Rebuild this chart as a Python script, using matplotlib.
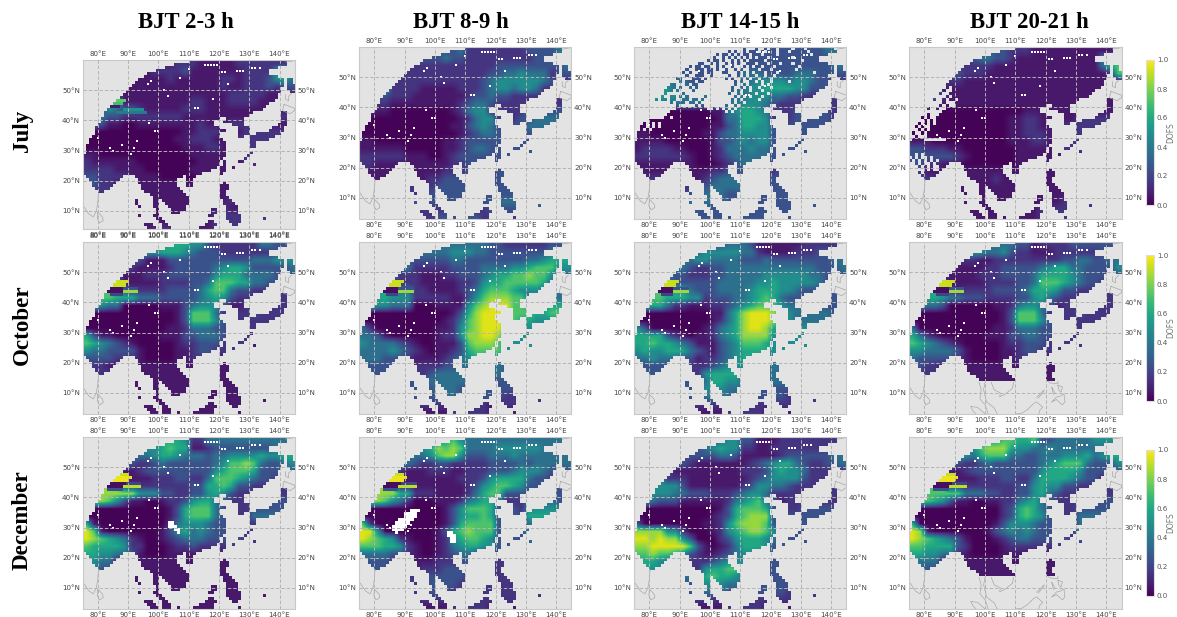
import numpy as np
import matplotlib
matplotlib.use("Agg")
import matplotlib.pyplot as plt
from matplotlib.cm import ScalarMappable
from matplotlib.colors import Normalize

HOURS = ["BJT 2-3 h", "BJT 8-9 h", "BJT 14-15 h", "BJT 20-21 h"]
MONTHS = ["July", "October", "December"]
LON_TICKS = [80, 90, 100, 110, 120, 130, 140]
LAT_TICKS = [10, 20, 30, 40, 50]
CBAR_TICKS = [0.0, 0.2, 0.4, 0.6, 0.8, 1.0]
# DOFS level meant by each digit of the grids below
LEVELS = [0.01, 0.07, 0.15, 0.25, 0.37, 0.49, 0.60, 0.72, 0.84, 0.95]

# land cells with data, by latitude band: lat -> [(lon_from, lon_to), ...]
LAND_SPANS = {
 59: [(110, 142)], 58: [(105, 142)], 57: [(102, 139)], 56: [(99, 136)], 55: [(96, 136)],
 54: [(95, 139)], 53: [(93, 141), (142, 144)], 52: [(92, 141), (142, 144)],
 51: [(91, 141), (142, 145)], 50: [(90, 140), (142, 145)], 49: [(89, 140), (143, 145)],
 48: [(88, 139)], 47: [(87, 139)], 46: [(86, 138)], 45: [(85, 136)], 44: [(84, 135)],
 43: [(83, 134)], 42: [(82, 131), (140, 142)], 41: [(82, 130), (140, 142)],
 40: [(81, 120), (122, 128), (140, 142)], 39: [(81, 118), (121, 128), (140, 142)],
 38: [(80, 118), (124, 128), (139, 142)], 37: [(79, 120), (126, 130), (137, 141)],
 36: [(79, 122), (126, 130), (136, 141)], 35: [(79, 120), (126, 130), (132, 140)],
 34: [(78, 120), (126, 128), (130, 138)], 33: [(77, 121), (130, 136)], 32: [(77, 122), (130, 132)],
 31: [(76, 122), (130, 132)], 30: [(76, 122)], 29: [(76, 122), (130, 131)],
 28: [(75, 122), (129, 130)], 27: [(75, 121), (128, 129)], 26: [(75, 120), (121, 122), (126, 128)],
 25: [(75, 120), (121, 122), (131, 132)], 24: [(75, 119), (120, 122), (124, 125)],
 23: [(75, 117), (120, 122)], 22: [(75, 114), (120, 121)], 21: [(76, 88), (92, 108), (109, 112)],
 20: [(77, 87), (93, 106), (109, 111)], 19: [(78, 86), (93, 106), (109, 111), (121, 122)],
 18: [(78, 85), (94, 106), (109, 111), (120, 123)], 17: [(79, 84), (94, 107), (120, 123)],
 16: [(80, 82), (95, 108), (120, 122)], 15: [(97, 109), (120, 122)], 14: [(98, 110), (120, 123)],
 13: [(92, 93), (98, 100), (101, 110), (121, 124)], 12: [(92, 93), (98, 100), (102, 110), (121, 125)],
 11: [(93, 94), (98, 100), (103, 109), (122, 126)], 10: [(99, 100), (104, 109), (117, 119), (122, 126)],
 9: [(99, 100), (104, 107), (117, 119), (122, 126)], 8: [(93, 94), (98, 100), (116, 118), (122, 127)],
 7: [(99, 101), (122, 127), (134, 135)], 6: [(100, 102), (116, 118), (123, 127)],
 5: [(95, 98), (101, 103), (115, 119), (124, 126)], 4: [(96, 99), (101, 104), (113, 118)],
 3: [(97, 100), (101, 104), (106, 107), (111, 118), (126, 127)],
}

# isolated tiny data gaps drawn white, common to all panels (lon, lat)
WHITE_LONS = [115.5, 116.5, 117.5, 118.5, 119.5, 126, 127, 128, 131, 132, 96.5, 97.5, 93, 100, 92, 97,
              112, 113, 85, 78, 80, 88, 84, 102, 118, 107, 110, 123, 99, 91, 103, 121, 122, 133.5]
WHITE_LATS = [58.3, 58.3, 58.3, 58.3, 58.3, 56.5, 56.5, 56.5, 57.3, 57.3, 52, 53, 33, 36.5, 31, 39,
              44, 44, 30, 35, 34, 32, 31, 50, 47, 54, 57, 52, 36.5, 29, 48, 56, 56, 57.3]

# Hand-read data gaps (# = no data), 10-cell groups from 75E; first row = first lat listed
GAPS_JUL14 = """
########## ########## ########## ###.##.### .##.#..#.. ..#...#... ......#...
########## ########## #########. #.#.##.#.. .#.#...#.. .#.....#.. ..........
########## ########## #######.#. .#.#.#..#. ..#....#.. ........#. ..........
########## ########## ######.##. #.#.#.#.#. #...#..... ..#....... ..........
########## ########## ####.#..#. ##.#.#.#.. ...#...... .....#.... ..........
########## #########. #..##.#.## .#.#.##... #...#...#. ..#....... ..........
########## ########.# ..#..##.#. ##.###.#.# ..#...#... ....#..... ..........
########## #######.## ...#..#.## .##.#.##.. .#...#.... ...#...... ..........
########## ######.#.# #..#..###. .###.#.#.# ...#...#.. .........# ..........
########## ####.##.## ...##.#### #.##.#.#.. #..#..#... .......... ....#.....
########## ####..###. ..#.###### .#.##.#.#. .#...#.... .......... ..........
########## ##.##.#... #..####### ###.#.##.. #.#..#.... .#........ ..........
########## #...###.#. .######### ###.##.#.. ..#.#..... .......... ..........
########## ....#.##.# .######### ##.##.#.#. .#...#.... .......... ..........
#########. ...#.####. ########## ##.#.#..#. ..#....... .......... ..........
########.# .#####.### ########## #.##.#.... #...#..... .......... ..........
#######.#. ##..#.#.## ###.###### ###.#.#.#. ..#....... .......... ..........
#######.#. .#..##..#. .#.####### ##.#.#.... .#........ .......... ..........
########## ##.#...#.. #.######## ##.#..#... .......... .......... ..........
########## ####.##### .#.####### .##.#..... .......... .......... ..........
########## ####...... ....##.#.# .#.#...... .......... .......... ..........
########## ##........ .......... #.#....... .......... .......... ..........
########## #......... .......... .......... .......... .......... ..........
########## ..#....... .......... .......... .......... .......... ..........
#####..... .......... .......... .......... .......... .......... ..........
###.#.#.#. .......... .......... .......... .......... .......... ..........
##..#.#.#. .......... .......... .......... .......... .......... ..........
##.#.#.... .......... .......... .......... .......... .......... ..........
"""
GAPS_JUL14_TOP = 59

GAPS_JUL20 = """
########## ##.#......
########## #.##......
########## .##.......
########## ##.#......
########.# #.#..#....
########## #.###.....
########## .#.##.....
######.##. ##........
########## #.........
######.### ..........
####.#.##. ..........
#####.#.#. ..........
###.#.#.#. ..........
##.#.##... ..........
###.#.#... ..........
#.##.#.... ..........
##.###.... ..........
.....##### ##........
.......... ..........
.......... ..........
.......... ..........
.......... ..........
..#.#..... ..........
#.#.##.#.. ..........
.#.#.#.#.# ..........
##.#.##.#. ..........
###.#.#.## ..........
##.##.#.## ..........
###.#..... ..........
"""
GAPS_JUL20_TOP = 46

# white holes (lat, lon_from, lon_to)
HOLES_DEC02 = [(31, 103, 105), (30, 103, 106), (29, 105, 107), (28, 106, 107)]
HOLES_DEC08 = [(35, 92, 95), (34, 90, 94), (33, 90, 94), (32, 88, 93), (31, 87, 92), (30, 86, 91),
               (29, 86, 90), (28, 87, 88), (28, 104, 106), (27, 104, 107), (26, 105, 107), (25, 105, 107)]

# narrow north-west bands too fine for the coarse grid (lat, lon_from, lon_to, DOFS)
BANDS_JUL = [(46, 86, 89, 0.75), (45, 85, 88, 0.7), (44, 84, 87, 0.08), (43, 88, 95, 0.5), (42, 86, 96, 0.4)]
BANDS_OCT = [(46, 86, 90, 0.92), (45, 85, 89, 0.92), (44, 84, 88, 0.04), (43, 83, 88, 0.04),
             (43, 88, 93, 0.85), (44, 88, 93, 0.25), (42, 84, 88, 0.2)]
BANDS_DEC = [(47, 87, 90, 0.92), (46, 86, 91, 0.97), (45, 85, 90, 0.97), (44, 84, 89, 0.04),
             (43, 83, 88, 0.04), (43, 88, 94, 0.9), (44, 89, 94, 0.2), (42, 83, 88, 0.25)]
BANDS = {(0, 0): BANDS_JUL, (1, 0): BANDS_OCT, (1, 1): BANDS_OCT, (1, 2): BANDS_OCT, (1, 3): BANDS_OCT,
         (2, 0): BANDS_DEC, (2, 1): BANDS_DEC, (2, 3): BANDS_DEC}

# DOFS digit read per 2.5 degree cell, rows from 60N, columns from 75E
JUL_02 = """
1111111111112221111122222222
1111111112222311111112222572
1111111111121111112212223564
1111111111111111112112223233
1111111111111111111222221111
1116511111111122111222211111
3335433211111222111111111111
4443322222222111111111122222
4331100111111112111222111111
0000000000000112221112222222
0000000000001122211122222222
0000000000000111221112222222
1100000000000011111112222222
2111111000000001111112222222
2222111100000011111111111111
3322221111000001111111111111
3322111111111111111111111111
2222111111111111111111111111
1111111111111111111211111111
1111111111111111112111111111
1111111111111112122222222222
1111111111111111122222222222
1111111112222111122222222222
"""
JUL_08 = """
2222222223333422222222333344
2222222333343322222222233354
2222222222222222223333333334
2222222222222222233445444233
2222222222222222345555554322
3336222211111222345545542222
3333222111111123343322222222
3322111111111234432222222222
3211000000001245522222433333
0000000000000124552223344443
0000000000001134543333444433
0000000000000123443333333333
1100000000011233333333333333
1111110000011234433333333333
2222221110012333333333333333
2211111111112233223333333333
2111111111122233223333333333
1111112112233333333333333333
1111112222333333333333333333
1111112233333333333333333333
2222223333333333334444444444
2222222222222222233333333333
1111111122333333222222222222
"""
JUL_14 = """
3333333333333333333333333444
3333333333333333333333333354
6666333333333333333333333344
5555533333333344433334443333
5555444333333344555545543322
6666544433333445566665533322
6666554444444445554433222222
4444444444444455543222222222
2222000000114566542223333322
0000000000014466652223333322
0000000000113466553333333333
1100000001134455553333333333
1111000000133454553333333333
1222211000124445443333333333
2222222100123444443333333333
1111111100012344332333333333
1111111111223333332333333333
2222222112344444333333333333
2222222233444443333333333333
2222222334443333333333333333
3333333444443333333333333333
3333333433333333333333333333
3333333433333333333333333333
"""
JUL_20 = """
1111111133433222111111111111
1111111134433211111111111454
2222222222211111111111111467
3333333222111111111111111127
4455222111111111111111111111
4444111111111111111111111111
3333211111111111111111111111
2222111111111111111111111111
1111000000000001111111111111
0000000000000112211111222222
0000000000000112211222222222
0000000000000112221222222222
1110000000000111221122222222
3322211000000011111122222222
3333332100000011111111111111
3322111000000011111111111111
2211111111111111111111111111
3322111111121111111111111111
1111111111111111111111111111
1111111111111111111111111111
1111111111111111111122222222
1111111111111111122222222222
1111111111111111122222222222
"""
OCT_02 = """
5555555555566655322222244333
5555555555666543332222222333
3333333311133333333333444555
3333332111123333345665333334
4444311122233333356664444333
4443311111222233477766443333
7777532222233334677433222222
7777666444333334565322222222
6654400000111345553112222222
0000000000001377742222322222
0000000000001377753322222222
0000000000011244433222222222
6311000000111334443222222222
7654321000001223332222111111
5443333100001123322222111111
3333222100001122211111111111
2221111111111111111111111111
2222111111111111111111111111
1111111111111111111111111111
1111111111111111111111111111
1111111111111111111111111111
1111111111111111111111111111
1111111111111111111111111111
"""
OCT_08 = """
4444444444444444433222222333
4444444444445554433333333444
3333333333334433333333445666
4444444222223333444455677755
4444422211122333456677877544
4444222211111223566777776444
6666444221111234677765554444
6666555222221135788877444444
6655444000111157899977655666
0000000000001368999977766776
0000000000012478999976655555
4200000000112578999655555555
4431000000122588998555555555
5444432100111378887555555555
4444543210112367777555555555
4443332111123456665333333333
3333333222233444444333333333
3333323223444444444333333333
3333333334444443333333333333
3333333343444333333333222222
3333333343444333333222222222
2222222222222222211222222222
2222222211112222211111111111
"""
OCT_14 = """
3333333333334443111111222222
4444444445555544211112223333
4444444455444433343333333344
5555554322334444444444443334
6666533222334444455555544333
5553333333344444556555554333
7777566433344445666554333333
7777666552333445676433333333
7666422111223456777544433333
0000000000114689998654444433
0000000000124689998554444444
5300000001245689986555555555
6666321011245688885555555555
6676654311134577765555555555
5655666432134566665555544444
4454443312234566554444444444
3333333222345555544444444444
4433333225666644444444444444
3333333334665544444444444444
3333333345554433333333333333
3333333344544333333322222222
2222222222222222222222222222
2222222211112222211111111111
"""
OCT_20 = """
3333333334444433122223333333
4444444455445322111222222333
3333322221122222222233443344
3333221111223333345664433335
3333211112223333466665433323
3332211111222233477765433222
6666621222233334666533222222
6666544333222233564322222222
5544300000011245543122222222
0000000000001377742222322222
0000000000001377753322222222
4000000000011244433222222222
6421000000111334433222222222
7654321000001223332222222222
5544443100001123322222222222
4333332100001122211111111111
3322111111111111111111111111
2222111111111111111111111111
1111111111111111111111111111
1111111111111111111111111111
1111111111111111111111111111
1111111111111111111111111111
1111111111111111111111111111
"""
DEC_02 = """
5555555555666522444444444444
5555555555676611233333333444
4444444445665444344555565566
4444443223433333345778743345
4444311233333333356777633343
4443311112223322477765433222
8888722222222233667633222222
8888888555332233565322222222
8887531100122356643222433333
0000000000013677743222333333
0000000000013677743322444433
6100000000024555433322222222
9710000000135645433222222222
9876542100123444333332222222
7666652200012232222222222222
6655443100011111111111111111
5544111111111111111111111111
5533111111111111111111111111
1111111111111111111111111111
1111111111111111111111111111
1111111111111111111111111111
1111111111111111111111111111
1111111111111111111111111111
"""
DEC_08 = """
4444444444567544444444444444
5555555556878744445555554444
4444444445788533344454444444
5555544322332222233334344444
4444421112221122233345554333
4443311111111222356666433222
8888711111111123567765333333
8888866222111124677333333333
8887542000111245664222444433
0000000000013577763332555555
0000000000013566763333666666
7200000000013677773333444444
9950000000136787773333444444
9876521000125677653333444444
7776652100124566553333333333
4444332100123443332222222222
3333221111222333322222222222
3333111122233333322222222222
2222222223333322222222222222
2222222233333222222222222222
2222222233332222222222222222
2222222222222222222222222222
1111111111112222211111111111
"""
DEC_14 = """
3333333333345533111222222222
3333333334565522112222222222
3333333333344311111233333344
4444443211111112345664322334
5555311111111122235655422222
5555222111111112345555322222
5555553111111123554432222222
5555544333222345542222222222
4543331111112456743122232222
0000000000013677763322333333
0000000000123678883333333333
3000000001125788873333333333
8888552000125678875333333333
9989885300023566654333333333
8899999731012466653333333333
7787765321123455443333333333
6665443222345554433333333333
6655332225667744433333333333
4444444456766544333333333333
3333333345554433333333333333
3333333344443333333322222222
2222222222222222222222222222
2222222211112222211111111111
"""
DEC_20 = """
5555555555667766733444445555
5555555557888655445444444444
5555555546777443344455564566
5555443223433333345677743335
4444311233333333356666533333
4443311112223322466665433122
7777722222222233565533222222
7777777444332233564322222222
7776531100112245643222333333
0000000000002367643222333333
0000000000002367653322444433
6000000000013555433322444444
9810000000134545433222555555
9876543100012344333332333333
7766663200001222222222222222
6655442100001111111111111111
5444111111111111111111111111
4433111111111111111111111111
1111111111111111111111111111
1111111111111111111111111111
1111111111111111111111111111
1111111111111111111111111111
1111111111111111111111111111
"""
GRIDS = [[JUL_02, JUL_08, JUL_14, JUL_20],
         [OCT_02, OCT_08, OCT_14, OCT_20],
         [DEC_02, DEC_08, DEC_14, DEC_20]]

# coastline outlines where no data hides them (lon, lat)
COAST_INDIA = [(75, 12), (77, 9), (78.5, 8), (79.5, 10), (80, 13), (80.2, 16)]
COAST_LANKA = [(80, 9.5), (81.5, 8), (81.8, 6.8), (80.5, 6), (79.8, 7.5), (80, 9.5)]
COAST_SAKHALIN = [(142, 48.5), (142, 47), (143, 46.5), (143, 48), (144, 49)]
COAST_HOKKAIDO = [(141.5, 45.3), (145, 44), (145, 43.3), (143.5, 42.2), (142, 42.8), (141, 43.2), (141.5, 45.3)]
COAST_OKHOTSK = [(142, 59.3), (145, 59.8)]
COAST_SOUTH = [
    [(98, 13.5), (98.7, 11), (98.3, 8), (100, 6), (101, 3)],
    [(100, 13.5), (99.5, 11), (100, 9), (100.5, 7), (103, 5), (104, 3)],
    [(102, 13.5), (103, 11), (105, 10), (104.8, 8.7), (106.5, 9.5), (109, 11.5), (109.4, 13.5)],
    [(95.3, 5.5), (97.5, 5.2), (100, 3)],
    [(95.3, 5.5), (96, 4), (97, 3)],
    [(110, 3), (112, 3.2), (114, 4.5), (116, 6.5), (117, 7), (119, 5.2), (118, 4.2), (117.7, 3)],
    [(117, 8.5), (119.5, 11), (119, 10), (117.5, 8.3)],
    [(122, 7), (123.5, 7.8), (125.5, 6), (126.3, 7), (126, 9.7), (125, 9), (123.5, 8.6), (122, 7)],
    [(122, 11.8), (123, 10), (122.5, 9.5), (122, 11.8)],
    [(124, 12.5), (125.5, 12), (125, 10.2), (124.3, 11), (124, 12.5)],
    [(120.7, 13.8), (121.5, 13.3), (124, 13), (124, 13.8)],
]

W, H = 1177, 617
PANEL_X = [(82.7, 294.7), (359.3, 571.3), (634.3, 846.3), (909.3, 1121.6)]
PANEL_Y = [(47, 219), (242, 414), (437, 609)]
CBAR_Y = [(60, 205), (255, 401), (450, 596)]
TITLE_X = [186, 461, 740, 1029]
ROW_Y = [131, 325, 520]
BG = "#e3e3e3"
GRIDC = "#b4b4b4"
TICKC = "#444444"


def px_axes(fig, x0, x1, y0, y1):
    return fig.add_axes([x0 / W, 1 - y1 / H, (x1 - x0) / W, (y1 - y0) / H])


def parse_grid(text):
    rows = [r.strip() for r in text.strip().splitlines()]
    return np.array([[LEVELS[int(c)] for c in r.ljust(28, r[-1])[:28]] for r in rows])


def parse_gaps(text, top, out):
    for i, row in enumerate(text.strip().splitlines()):
        row = row.replace(" ", "")
        for j, c in enumerate(row):
            lat = top - i
            if c == "#" and j < 70 and 3 <= lat <= 59:
                out[59 - lat, j] = 0


def cover_array(row, col):
    """state per 1 degree cell: 0 no data, 1 data, 2 white gap"""
    st = np.zeros((57, 70), dtype=int)
    for lat, spans in LAND_SPANS.items():
        for a, b in spans:
            st[59 - lat, a - 75:b - 75] = 1
    if (row, col) == (0, 2):
        parse_gaps(GAPS_JUL14, GAPS_JUL14_TOP, st)
    if (row, col) == (0, 3):
        parse_gaps(GAPS_JUL20, GAPS_JUL20_TOP, st)
    if (row, col) == (2, 0):
        for lat, a, b in HOLES_DEC02:
            st[59 - lat, a - 75:b - 75] = 2
    if (row, col) == (2, 1):
        for lat, a, b in HOLES_DEC08:
            st[59 - lat, a - 75:b - 75] = 2
    if row > 0 and col == 3:
        st[59 - 13:, :] = 0
    return st


fig = plt.figure(figsize=(W / 100, H / 100), dpi=100)
gray = np.array(matplotlib.colors.to_rgba(BG))
vir = matplotlib.colormaps["viridis"]
EXT = (75, 145, 2.5, 60)

for r in range(3):
    for c in range(4):
        x0, x1 = PANEL_X[c]
        y0, y1 = PANEL_Y[r]
        south = 3
        if (r, c) == (0, 0):
            y0, y1, south = 60, 229, 4
        ax = px_axes(fig, x0, x1, y0, y1)
        ax.imshow(parse_grid(GRIDS[r][c]), cmap="viridis", vmin=0, vmax=1, extent=EXT,
                  interpolation="bilinear", aspect="auto", zorder=0.5)
        st = cover_array(r, c)
        over = np.zeros((57, 70, 4))
        for lat, a, b, v in BANDS.get((r, c), []):
            over[59 - lat, a - 75:b - 75] = vir(v)
        over[st == 0] = gray
        over[st == 2] = (1, 1, 1, 1)
        ax.imshow(over, extent=(75, 145, 3, 60), interpolation="nearest", aspect="auto", zorder=0.6)
        wx = np.array(WHITE_LONS)
        wy = np.array(WHITE_LATS)
        keep = st[59 - np.floor(wy).astype(int), np.floor(wx).astype(int) - 75] == 1
        ax.plot(wx[keep], wy[keep], "s", ms=1.5, mew=0, color="white", zorder=0.7)
        lines = [COAST_INDIA, COAST_LANKA, COAST_SAKHALIN, COAST_HOKKAIDO, COAST_OKHOTSK]
        if r > 0 and c == 3:
            lines = lines + COAST_SOUTH
        for ln in lines:
            a = np.array(ln)
            ax.plot(a[:, 0], a[:, 1], color="#a8a8a8", lw=0.5, zorder=1)
        ax.set_xlim(75, 145)
        ax.set_ylim(south, 60)
        ax.set_xticks(LON_TICKS)
        ax.set_xticklabels([f"{v}°E" for v in LON_TICKS])
        ax.set_yticks(LAT_TICKS)
        ax.set_yticklabels([f"{v}°N" for v in LAT_TICKS])
        ax.tick_params(axis="both", length=0, labelsize=5.1, colors=TICKC, pad=2,
                       top=False, bottom=False, left=False, right=False,
                       labeltop=True, labelbottom=True, labelleft=True, labelright=True)
        ax.set_axisbelow(False)
        ax.grid(True, color=GRIDC, ls=(0, (3.5, 2)), lw=0.7)
        for s in ax.spines.values():
            s.set_color("#c9c9c9")
            s.set_linewidth(0.8)

for y0, y1 in CBAR_Y:
    cax = px_axes(fig, 1146, 1154, y0, y1)
    cb = fig.colorbar(ScalarMappable(Normalize(0, 1), "viridis"), cax=cax)
    cb.set_ticks(CBAR_TICKS)
    cb.ax.tick_params(labelsize=5.1, length=0, pad=2, colors="#555555")
    cb.outline.set_edgecolor("#dddddd")
    cb.outline.set_linewidth(0.8)
    fig.text(1171 / W, 1 - (y0 + y1) / 2 / H, "DOFS", rotation=90, ha="center", va="center",
             fontsize=5.5, color="#777777")

SERIF = ["Liberation Serif", "DejaVu Serif"]
for x, t in zip(TITLE_X, HOURS):
    fig.text(x / W, 1 - 22.5 / H, t, ha="center", va="center", family=SERIF, weight="bold", fontsize=16.4)
for y, t in zip(ROW_Y, MONTHS):
    fig.text(22 / W, 1 - y / H, t, ha="center", va="center", rotation=90, family=SERIF, weight="bold", fontsize=16.6)

fig.savefig("out.png", dpi=100, facecolor="white")
